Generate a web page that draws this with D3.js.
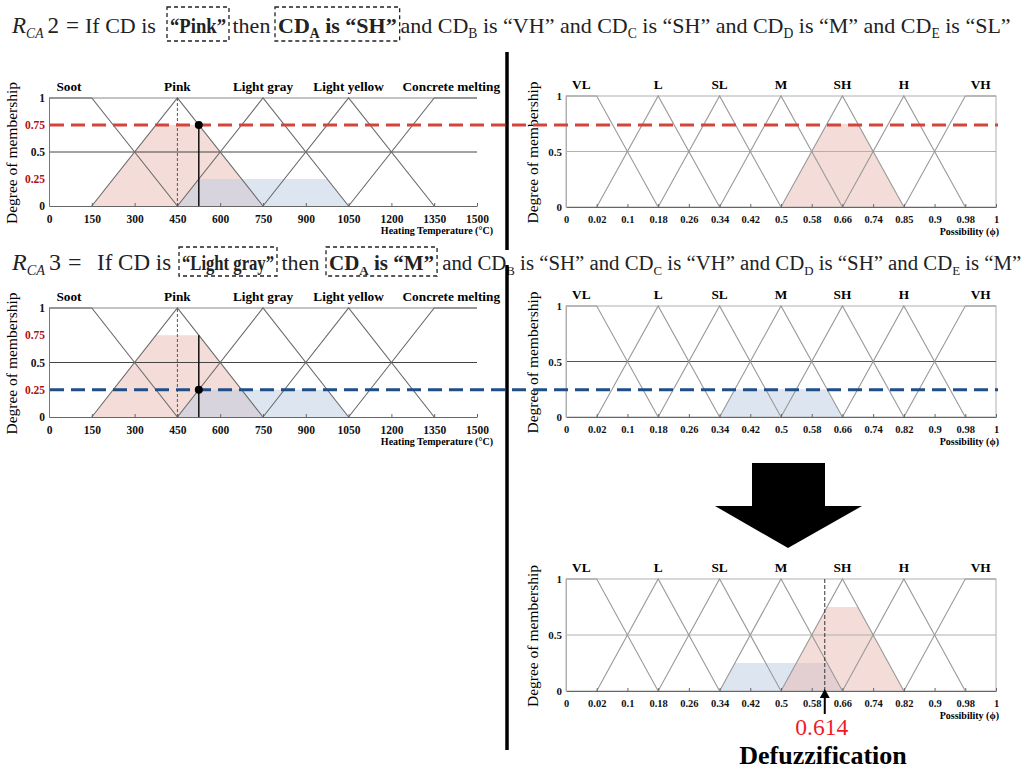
<!DOCTYPE html>
<html>
<head>
<meta charset="utf-8">
<script src="https://cdn.jsdelivr.net/npm/d3@7"></script>
<style>
body { margin: 0; background: #fff; }
svg { display: block; }
text { font-family: "Liberation Serif", "Times New Roman", serif; white-space: pre; }
</style>
</head>
<body>
<svg id="fig" width="1027" height="769"></svg>
<script>
// ---- data ----
// heating temperature side (input)
var tempTicks = [0, 150, 300, 450, 600, 750, 900, 1050, 1200, 1350, 1500];
var tempSetNames = ['Soot', 'Pink', 'Light gray', 'Light yellow', 'Concrete melting'];
// trapezoids [start, reach 1, leave 1, end]
var tempSets = [[0, 0, 150, 450], [150, 450, 450, 750], [450, 750, 750, 1050], [750, 1050, 1050, 1350], [1050, 1350, 1500, 1500]];
var tempLabelAt = [70, 450, 750, 1050, 1410];

// possibility side (output)
var possTicks = [0, 0.02, 0.1, 0.18, 0.26, 0.34, 0.42, 0.5, 0.58, 0.66, 0.74, 0.82, 0.9, 0.98, 1];
var possLabelsRule2 = ['0', '0.02', '0.1', '0.18', '0.26', '0.34', '0.42', '0.5', '0.58', '0.66', '0.74', '0.85', '0.9', '0.98', '1'];
var possLabels = ['0', '0.02', '0.1', '0.18', '0.26', '0.34', '0.42', '0.5', '0.58', '0.66', '0.74', '0.82', '0.9', '0.98', '1'];
var possSetNames = ['VL', 'L', 'SL', 'M', 'SH', 'H', 'VH'];
var possSets = [[0, 0, 0.02, 0.18], [0.02, 0.18, 0.18, 0.34], [0.18, 0.34, 0.34, 0.5], [0.34, 0.5, 0.5, 0.66], [0.5, 0.66, 0.66, 0.82], [0.66, 0.82, 0.82, 0.98], [0.82, 0.98, 1, 1]];
var possLabelAt = [0.01, 0.18, 0.34, 0.5, 0.66, 0.82, 0.99];

var tempYTicks = [0, 0.25, 0.5, 0.75, 1];
var possYTicks = [0, 0.5, 1];
var redTicks = [0.25, 0.75];

var inputTemp = 525;
var degreeRule2 = 0.75;   // Pink
var degreeRule3 = 0.25;   // Light gray
var outSetRule2 = 'SH';
var outSetRule3 = 'M';
var defuzzValue = 0.614;

var PINK = '#e9b9b3', BLUE = '#bccbe2';
var RED_DASH = '#d2443c', BLUE_DASH = '#1f4f86';

var svg = d3.select('#fig');

function trapPoints(t) {
    return [[t[0], t[0] == t[1] ? 1 : 0], [t[1], 1], [t[2], 1], [t[3], t[2] == t[3] ? 1 : 0]];
}

function clipPoints(t, h) {
    return [[t[0], 0], [t[0] + h * (t[1] - t[0]), h], [t[3] - h * (t[3] - t[2]), h], [t[3], 0]];
}

function panel(o) {
    var g = svg.append('g');
    var x;
    if (o.kind == 'temp') {
        x = d3.scaleLinear().domain([0, 1500]).range([o.x0, o.x1]);
    } else {
        var step = (o.x1 - o.x0) / (possTicks.length - 1);
        x = d3.scaleLinear().domain(possTicks).range(possTicks.map(function(d, i) { return o.x0 + i * step; }));
    }
    var y = d3.scaleLinear().domain([0, 1]).range([o.yBot, o.yTop]);
    var line = d3.line().x(function(d) { return x(d[0]); }).y(function(d) { return y(d[1]); });

    var sets = o.kind == 'temp' ? tempSets : possSets;
    var names = o.kind == 'temp' ? tempSetNames : possSetNames;

    // clipped memberships
    o.fills.forEach(function(f) {
        g.append('path')
          .attr('d', line(clipPoints(sets[names.indexOf(f.set)], f.h)) + 'Z')
          .attr('fill', f.color)
          .attr('fill-opacity', 0.5);
    });

    // frame and grid
    if (o.kind == 'temp') {
        [1, 0.5].forEach(function(v) {
            g.append('line').attr('x1', o.x0).attr('x2', o.x1).attr('y1', y(v)).attr('y2', y(v))
              .attr('stroke', v == 1 ? '#888' : '#444').attr('stroke-width', 1);
        });
    } else {
        g.append('rect').attr('x', o.x0).attr('y', o.yTop).attr('width', o.x1 - o.x0).attr('height', o.yBot - o.yTop)
          .attr('fill', 'none').attr('stroke', '#b0b0b0');
        g.append('line').attr('x1', o.x0).attr('x2', o.x1).attr('y1', y(0.5)).attr('y2', y(0.5))
          .attr('stroke', o.midColor || '#b0b0b0');
    }

    // membership functions
    sets.forEach(function(t) {
        g.append('path')
          .attr('d', line(trapPoints(t)))
          .attr('fill', 'none')
          .attr('stroke', o.kind == 'temp' ? '#6a6a6a' : '#9a9a9a')
          .attr('stroke-width', 1.1);
    });

    // axes
    var labels = o.kind == 'temp' ? tempTicks.map(String) : o.tickLabels;
    var ticks = o.kind == 'temp' ? tempTicks : possTicks;
    var xa = g.append('g')
        .attr('transform', 'translate(0,' + o.yBot + ')')
        .call(d3.axisBottom(x).tickValues(ticks).tickFormat(function(d, i) { return labels[i]; })
            .tickSizeInner(-3).tickSizeOuter(0).tickPadding(9));
    xa.select('.domain').attr('stroke', '#666');
    xa.selectAll('.tick line').attr('stroke', '#666');
    xa.selectAll('text').attr('font-family', '"Liberation Serif", serif').attr('font-weight', 'bold')
      .attr('font-size', o.kind == 'temp' ? 11.5 : 10.5).attr('fill', '#111');

    var ya = g.append('g')
        .attr('transform', 'translate(' + o.x0 + ',0)')
        .call(d3.axisLeft(y).tickValues(o.kind == 'temp' ? tempYTicks : possYTicks)
            .tickFormat(function(d) { return String(d); }).tickSize(0).tickPadding(4));
    ya.select('.domain').attr('stroke', o.kind == 'temp' ? '#777' : '#b0b0b0');
    ya.selectAll('text').attr('font-family', '"Liberation Serif", serif').attr('font-weight', 'bold')
      .attr('font-size', o.kind == 'temp' ? 11.5 : 11)
      .attr('fill', function(d) { return o.kind == 'temp' && redTicks.indexOf(d) >= 0 ? '#b01010' : '#111'; });

    // set names
    var at = o.kind == 'temp' ? tempLabelAt : possLabelAt;
    g.selectAll('.setname').data(names).enter().append('text')
      .attr('x', function(d, i) { return x(at[i]); })
      .attr('y', o.yTop - 7)
      .attr('text-anchor', 'middle')
      .attr('font-weight', 'bold')
      .attr('font-size', 13.3)
      .text(function(d) { return d; });

    // axis titles
    g.append('text')
      .attr('x', o.kind == 'temp' ? o.x1 + 16 : o.x1 + 3)
      .attr('y', o.yBot + 28)
      .attr('text-anchor', 'end')
      .attr('font-weight', 'bold')
      .attr('font-size', 10)
      .text(o.kind == 'temp' ? 'Heating Temperature (°C)' : 'Possibility (ϕ)');
    g.append('text')
      .attr('transform', 'translate(' + (o.x0 - (o.kind == 'temp' ? 37 : 33)) + ',' + ((o.yTop + o.yBot) / 2 + 1) + ') rotate(-90)')
      .attr('text-anchor', 'middle')
      .attr('dy', '0.35em')
      .attr('font-size', 15.5)
      .text('Degree of membership');

    return {g: g, x: x, y: y};
}

function inputMarks(p, degree) {
    p.g.append('line')
      .attr('x1', p.x(450)).attr('x2', p.x(450)).attr('y1', p.y(0)).attr('y2', p.y(1))
      .attr('stroke', '#555').attr('stroke-dasharray', '3,2');
    svg.append('line')
      .attr('x1', p.x(inputTemp)).attr('x2', p.x(inputTemp)).attr('y1', p.y(0)).attr('y2', p.y(degreeRule2))
      .attr('stroke', '#111').attr('stroke-width', 1.5);
    svg.append('circle')
      .attr('cx', p.x(inputTemp)).attr('cy', p.y(degree)).attr('r', 4).attr('fill', '#000');
}

function rule(cfg) {
    var t = svg.append('text').attr('x', 12).attr('y', cfg.y).attr('font-size', cfg.fs + 1).attr('fill', '#222');
    t.append('tspan').attr('font-style', 'italic').text('R');
    t.append('tspan').attr('font-style', 'italic').attr('font-size', cfg.fs * 0.62).attr('dy', 5).text('CA');
    t.append('tspan').attr('dy', -5).attr('dx', 4).text(cfg.num);
    t.append('tspan').attr('dx', 7).text('=');

    var m = svg.append('text').attr('x', cfg.ifX).attr('y', cfg.y).attr('font-size', cfg.fs).attr('fill', '#222');
    var prevSub = false;
    var spans = [];
    var curFs = cfg.fs;
    cfg.segs.forEach(function(s) {
        var f = s[1] || '';
        var opt = s[3] || {};
        if (opt.fs != null) curFs = opt.fs;
        var sub = f.indexOf('s') >= 0;
        var ts = m.append('tspan')
          .attr('dy', (sub ? 5 : 0) - (prevSub ? 5 : 0))
          .attr('font-weight', f.indexOf('b') >= 0 ? 'bold' : null)
          .attr('font-size', sub ? curFs * 0.62 : curFs)
          .text(s[0]);
        if (opt.x != null) ts.attr('x', opt.x);
        if (opt.dx != null) ts.attr('dx', opt.dx);
        if (opt.w != null) ts.attr('textLength', opt.w).attr('lengthAdjust', 'spacingAndGlyphs');
        spans.push({node: ts.node(), group: s[2]});
        prevSub = sub;
    });
    [1, 2].forEach(function(gid) {
        var xs = [];
        spans.forEach(function(s) {
            if (s.group == gid) {
                var b = s.node.getBBox();
                xs.push(b.x, b.x + b.width);
            }
        });
        var lo = d3.min(xs) - 3, hi = d3.max(xs) + 3;
        svg.append('rect').attr('x', lo).attr('y', cfg.boxTop).attr('width', hi - lo).attr('height', cfg.boxBot - cfg.boxTop)
          .attr('fill', 'none').attr('stroke', '#222').attr('stroke-width', 1.3).attr('stroke-dasharray', '4,3');
    });
}

// ---- rule R_CA 2 ----
rule({y: 33, fs: 22, ifX: 85, num: '2', boxTop: 7, boxBot: 41, segs: [
    ['If CD is '], ['“Pink”', 'b', 1, {x: 170, w: 56}], [' then ', '', 0, {dx: 1}], ['CD', 'b', 2, {x: 278}], ['A', 'bs', 2], [' is “SH”', 'b', 2],
    [' and CD', '', 0, {x: 395}], ['B', 's'], [' is “VH” and CD'], ['C', 's'], [' is “SH” and CD'], ['D', 's'],
    [' is “M” and CD'], ['E', 's'], [' is “SL”']
]});

var p1 = panel({kind: 'temp', x0: 49, x1: 477, yTop: 98, yBot: 206,
    fills: [{set: 'Pink', h: degreeRule2, color: PINK}, {set: 'Light gray', h: degreeRule3, color: BLUE}]});

var p2 = panel({kind: 'poss', x0: 566, x1: 996, yTop: 96, yBot: 207, tickLabels: possLabelsRule2,
    fills: [{set: outSetRule2, h: degreeRule2, color: PINK}]});

// ---- rule R_CA 3 ----
rule({y: 270, fs: 23, ifX: 97, num: '3', boxTop: 247, boxBot: 276, segs: [
    ['If CD is '], ['“Light gray”', 'b', 1, {x: 182, w: 92, fs: 21}], [' then ', '', 0, {fs: 22, dx: 2}],
    ['CD', 'b', 2, {x: 329, fs: 21}], ['A', 'bs', 2], [' is “M”', 'b', 2],
    [' and CD', '', 0, {x: 437, fs: 20.8}], ['B', 's'], [' is “SH” and CD'], ['C', 's'], [' is “VH” and CD'], ['D', 's'],
    [' is “SH” and CD'], ['E', 's'], [' is “M”']
]});

var p3 = panel({kind: 'temp', x0: 49, x1: 477, yTop: 308, yBot: 417,
    fills: [{set: 'Pink', h: degreeRule2, color: PINK}, {set: 'Light gray', h: degreeRule3, color: BLUE}]});

var p4 = panel({kind: 'poss', x0: 566, x1: 996, yTop: 306, yBot: 417, tickLabels: possLabels, midColor: '#555',
    fills: [{set: outSetRule3, h: degreeRule3, color: BLUE}]});

// ---- aggregated output ----
var p5 = panel({kind: 'poss', x0: 566, x1: 996, yTop: 579, yBot: 691, tickLabels: possLabels,
    fills: [{set: outSetRule3, h: degreeRule3, color: BLUE}, {set: outSetRule2, h: degreeRule2, color: PINK}]});

// firing strength lines
svg.append('line').attr('x1', 50).attr('x2', 998).attr('y1', p1.y(degreeRule2)).attr('y2', p1.y(degreeRule2))
  .attr('stroke', RED_DASH).attr('stroke-width', 3).attr('stroke-dasharray', '14,7');
svg.append('line').attr('x1', 50).attr('x2', 998).attr('y1', p3.y(degreeRule3)).attr('y2', p3.y(degreeRule3))
  .attr('stroke', BLUE_DASH).attr('stroke-width', 3).attr('stroke-dasharray', '14,7');

inputMarks(p1, degreeRule2);
inputMarks(p3, degreeRule3);

// defuzzification marker
var dx = p5.x(defuzzValue);
p5.g.append('line').attr('x1', dx).attr('x2', dx).attr('y1', p5.y(0)).attr('y2', p5.y(1))
  .attr('stroke', '#333').attr('stroke-dasharray', '4,2');
p5.g.append('line').attr('x1', dx).attr('x2', dx).attr('y1', p5.y(0) + 23).attr('y2', p5.y(0) + 4)
  .attr('stroke', '#000').attr('stroke-width', 2);
p5.g.append('path')
  .attr('d', 'M' + dx + ',' + (p5.y(0) - 2) + 'l-5,9h10z')
  .attr('fill', '#000');
svg.append('text').attr('x', dx - 3).attr('y', 735).attr('text-anchor', 'middle')
  .attr('font-size', 23.5).attr('fill', '#ee1c25').text(String(defuzzValue));
svg.append('text').attr('x', 823).attr('y', 764).attr('text-anchor', 'middle')
  .attr('font-size', 26).attr('font-weight', 'bold').text('Defuzzification');

// big arrow
svg.append('path')
  .attr('d', 'M752,463H825V506H862L788,548L715,506H752Z')
  .attr('fill', '#000');

// divider
svg.append('line').attr('x1', 507).attr('x2', 507).attr('y1', 52).attr('y2', 250)
  .attr('stroke', '#000').attr('stroke-width', 3.5);
svg.append('line').attr('x1', 507).attr('x2', 507).attr('y1', 265).attr('y2', 750)
  .attr('stroke', '#000').attr('stroke-width', 3.5);
</script>
</body>
</html>
